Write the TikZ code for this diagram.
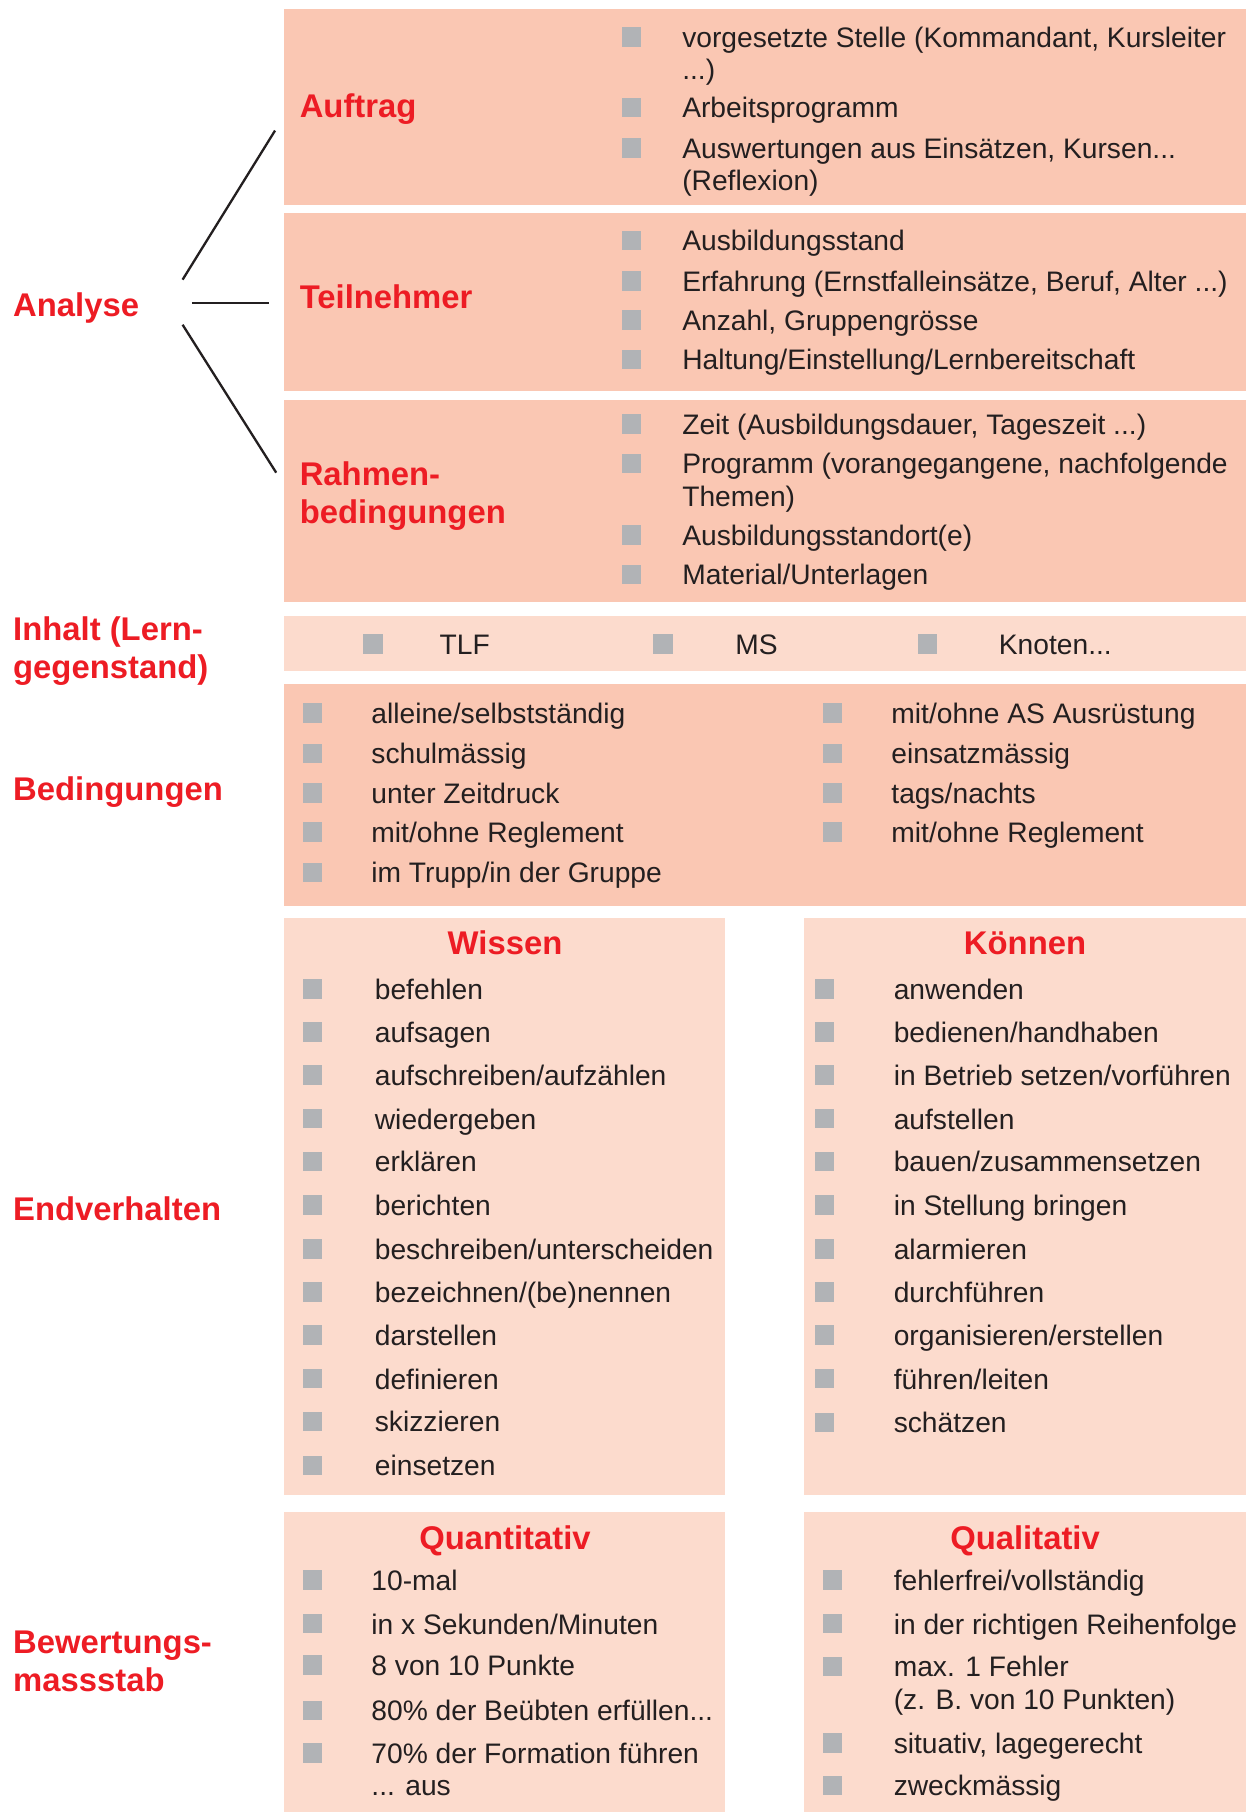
\documentclass[tikz,border=0pt]{standalone}
\usepackage{fontspec}
\setmainfont{Liberation Sans}
\definecolor{darkc}{HTML}{FAC7B3}
\definecolor{lightc}{HTML}{FCDBCD}
\definecolor{redc}{HTML}{ED1C24}
\definecolor{bulc}{HTML}{B1B3B6}
\definecolor{txtc}{HTML}{231F20}
\tikzset{
  txt/.style={inner sep=0pt, text=txtc, font=\fontsize{12.2}{14}\selectfont, anchor=base west},
  hd/.style={inner sep=0pt, text=redc, font=\fontsize{14.2}{16}\selectfont\bfseries, anchor=base west},
  hdc/.style={hd, anchor=base},
  bul/.style={fill=bulc},
  darkbox/.style={fill=darkc},
  lightbox/.style={fill=lightc},
  conn/.style={draw=txtc, line width=1pt}
}
\newcommand\itm[5]{\fill[bul] (#2,#4-0.5) rectangle ++(17,-17); \node[txt] (#1) at (#3,#4) {#5};}
\begin{document}
\begin{tikzpicture}[x=0.5pt,y=-0.5pt]
\useasboundingbox (0,0) rectangle (1078,1568);
% boxes
\fill[darkbox] (246,8) rectangle (1078,177);
\fill[darkbox] (246,184) rectangle (1078,338);
\fill[darkbox] (246,346) rectangle (1078,521);
\fill[lightbox] (246,533) rectangle (1078,581);
\fill[darkbox] (246,592) rectangle (1078,784);
\fill[lightbox] (246,794) rectangle (627,1294);
\fill[lightbox] (696,794) rectangle (1078,1294);
\fill[lightbox] (246,1308) rectangle (627,1568);
\fill[lightbox] (696,1308) rectangle (1078,1568);

% left labels
\node[hd] (analyse) at (11,274) {Analyse};
\node[hd] (inhalt1) at (11,554) {Inhalt (Lern-};
\node[hd] (inhalt2) at (11,587) {gegenstand)};
\node[hd] (beding) at (11,693) {Bedingungen};
\node[hd] (endv) at (11,1056) {Endverhalten};
\node[hd] (bew1) at (11,1431) {Bewertungs-};
\node[hd] (bew2) at (11,1464) {massstab};

% section labels
\node[hd] (auftrag) at (259,102) {Auftrag};
\node[hd] (teiln) at (259,267) {Teilnehmer};
\node[hd] (rahmen1) at (259,420) {Rahmen-};
\node[hd] (rahmen2) at (259,453) {bedingungen};

% connectors
\coordinate (c1s) at (158,242); \coordinate (c1e) at (238,113);
\coordinate (c2s) at (166,262); \coordinate (c2e) at (233,262);
\coordinate (c3s) at (158,281); \coordinate (c3e) at (239,409);
\draw[conn] (c1s) -- (c1e);
\draw[conn] (c2s) -- (c2e);
\draw[conn] (c3s) -- (c3e);

% Auftrag items
\itm{au1}{538}{590}{41}{vorgesetzte Stelle (Kommandant, Kursleiter}
\node[txt] (au1b) at (590,69) {...)};
\itm{au2}{538}{590}{102}{Arbeitsprogramm}
\itm{au3}{538}{590}{137}{Auswertungen aus Einsätzen, Kursen...}
\node[txt] (au3b) at (590,165) {(Reflexion)};

% Teilnehmer items
\itm{te1}{538}{590}{217}{Ausbildungsstand}
\itm{te2}{538}{590}{252}{Erfahrung (Ernstfalleinsätze, Beruf, Alter ...)}
\itm{te3}{538}{590}{286}{Anzahl, Gruppengrösse}
\itm{te4}{538}{590}{320}{Haltung/Einstellung/Lernbereitschaft}

% Rahmenbedingungen items
\itm{ra1}{538}{590}{376}{Zeit (Ausbildungsdauer, Tageszeit ...)}
\itm{ra2}{538}{590}{410}{Programm (vorangegangene, nachfolgende}
\node[txt] (ra2b) at (590,438) {Themen)};
\itm{ra3}{538}{590}{472}{Ausbildungsstandort(e)}
\itm{ra4}{538}{590}{506}{Material/Unterlagen}

% Inhalt items
\itm{in1}{314}{380}{566}{TLF}
\itm{in2}{565}{636}{566}{MS}
\itm{in3}{794}{864}{566}{Knoten...}

% Bedingungen items
\itm{be1}{262}{321}{626}{alleine/selbstständig}
\itm{be2}{262}{321}{661}{schulmässig}
\itm{be3}{262}{321}{695}{unter Zeitdruck}
\itm{be4}{262}{321}{729}{mit/ohne Reglement}
\itm{be5}{262}{321}{764}{im Trupp/in der Gruppe}
\itm{be6}{712}{771}{626}{mit/ohne AS Ausrüstung}
\itm{be7}{712}{771}{661}{einsatzmässig}
\itm{be8}{712}{771}{695}{tags/nachts}
\itm{be9}{712}{771}{729}{mit/ohne Reglement}

% Wissen
\node[hdc] (wissen) at (437,826) {Wissen};
\itm{wi1}{262}{324}{865}{befehlen}
\itm{wi2}{262}{324}{902}{aufsagen}
\itm{wi3}{262}{324}{939}{aufschreiben/aufzählen}
\itm{wi4}{262}{324}{977}{wiedergeben}
\itm{wi5}{262}{324}{1014}{erklären}
\itm{wi6}{262}{324}{1052}{berichten}
\itm{wi7}{262}{324}{1090}{beschreiben/unterscheiden}
\itm{wi8}{262}{324}{1127}{bezeichnen/(be)nennen}
\itm{wi9}{262}{324}{1164}{darstellen}
\itm{wi10}{262}{324}{1202}{definieren}
\itm{wi11}{262}{324}{1239}{skizzieren}
\itm{wi12}{262}{324}{1277}{einsetzen}

% Koennen
\node[hdc] (koennen) at (887,826) {Können};
\itm{ko1}{705}{773}{865}{anwenden}
\itm{ko2}{705}{773}{902}{bedienen/handhaben}
\itm{ko3}{705}{773}{939}{in Betrieb setzen/vorführen}
\itm{ko4}{705}{773}{977}{aufstellen}
\itm{ko5}{705}{773}{1014}{bauen/zusammensetzen}
\itm{ko6}{705}{773}{1052}{in Stellung bringen}
\itm{ko7}{705}{773}{1090}{alarmieren}
\itm{ko8}{705}{773}{1127}{durchführen}
\itm{ko9}{705}{773}{1164}{organisieren/erstellen}
\itm{ko10}{705}{773}{1202}{führen/leiten}
\itm{ko11}{705}{773}{1240}{schätzen}

% Quantitativ
\node[hdc] (quant) at (437,1341) {Quantitativ};
\itm{qn1}{262}{321}{1376}{10-mal}
\itm{qn2}{262}{321}{1414}{in x Sekunden/Minuten}
\itm{qn3}{262}{321}{1450}{8 von 10 Punkte}
\itm{qn4}{262}{321}{1489}{80\% der Beübten erfüllen...}
\itm{qn5}{262}{321}{1526}{70\% der Formation führen}
\node[txt] (qn5b) at (321,1554) {... aus};

% Qualitativ
\node[hdc] (qual) at (887,1341) {Qualitativ};
\itm{ql1}{712}{773}{1376}{fehlerfrei/vollständig}
\itm{ql2}{712}{773}{1414}{in der richtigen Reihenfolge}
\itm{ql3}{712}{773}{1451}{max. 1 Fehler}
\node[txt] (ql3b) at (773,1479) {(z. B. von 10 Punkten)};
\itm{ql4}{712}{773}{1517}{situativ, lagegerecht}
\itm{ql5}{712}{773}{1554}{zweckmässig}
\end{tikzpicture}
\end{document}
